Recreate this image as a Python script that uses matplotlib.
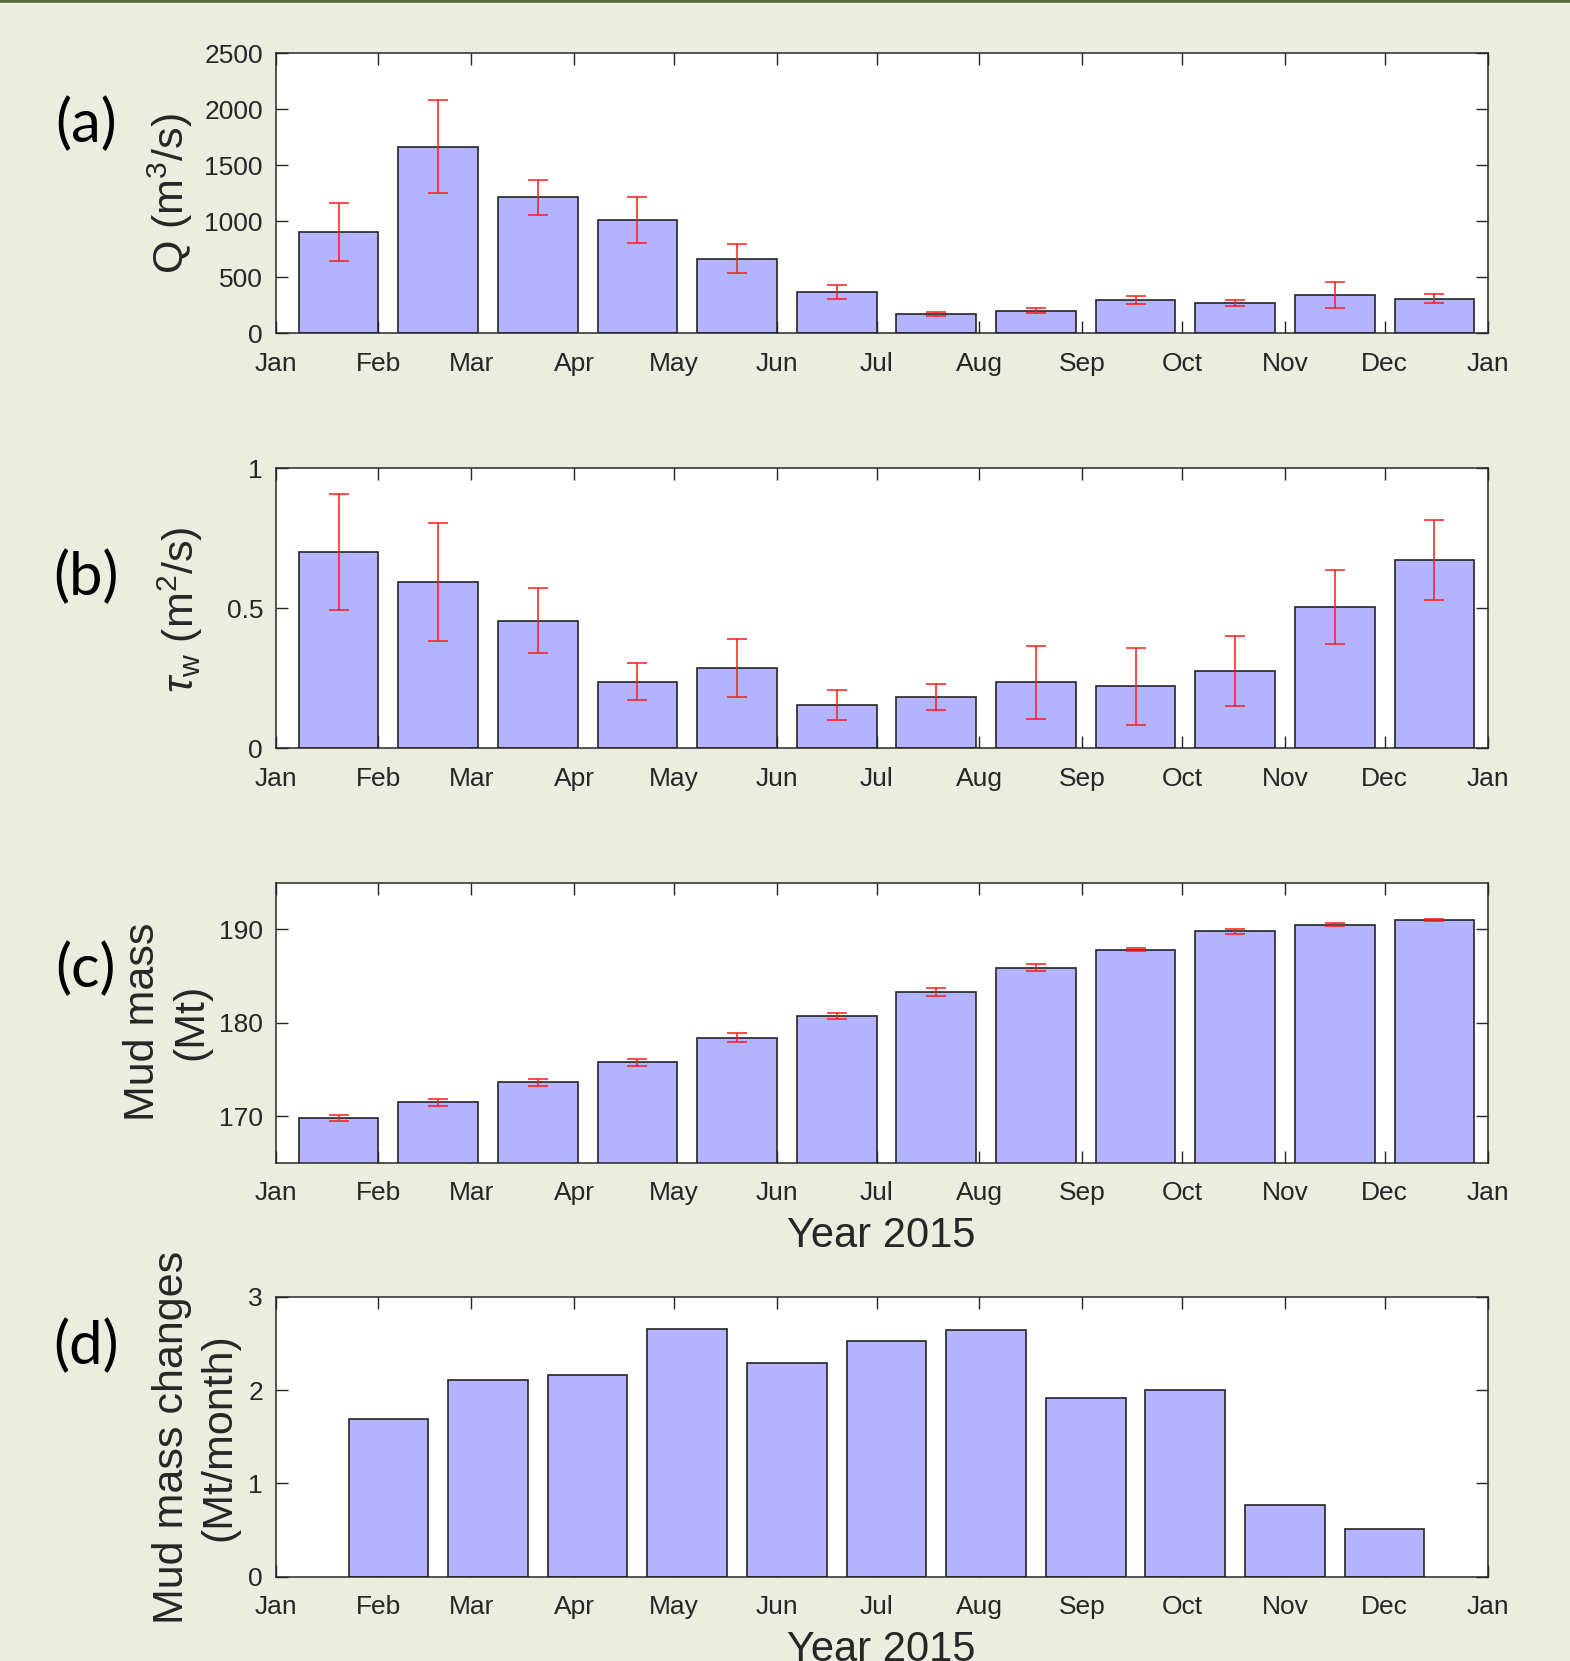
import matplotlib
matplotlib.use('Agg')
import matplotlib.pyplot as plt
import matplotlib.dates as mdates
import pandas as pd

plt.rcParams['font.family'] = ['Liberation Sans', 'DejaVu Sans']
plt.rcParams['mathtext.fontset'] = 'custom'
plt.rcParams['mathtext.rm'] = 'Liberation Sans'
plt.rcParams['mathtext.it'] = 'Liberation Sans:italic'

# ---------------- data ----------------
month_dates = ['2015-01-20', '2015-02-19', '2015-03-21', '2015-04-20', '2015-05-20', '2015-06-19',
               '2015-07-19', '2015-08-18', '2015-09-17', '2015-10-17', '2015-11-16', '2015-12-16']
change_dates = ['2015-02-04', '2015-03-06', '2015-04-05', '2015-05-05', '2015-06-04', '2015-07-04',
                '2015-08-03', '2015-09-02', '2015-10-02', '2015-11-01', '2015-12-01']

discharge = [902, 1667, 1214, 1012, 667, 366, 176, 202, 298, 271, 342, 310]
discharge_err = [260, 412, 158, 205, 128, 62, 18, 20, 37, 24, 113, 41]

wave_stress = [0.702, 0.594, 0.455, 0.238, 0.286, 0.155, 0.183, 0.236, 0.221, 0.277, 0.505, 0.671]
wave_stress_err = [0.207, 0.211, 0.116, 0.066, 0.103, 0.054, 0.047, 0.130, 0.137, 0.125, 0.131, 0.143]

mud_mass = [169.82, 171.47, 173.61, 175.76, 178.41, 180.73, 183.24, 185.89, 187.82, 189.79, 190.50, 191.04]
mud_mass_err = [0.30, 0.35, 0.40, 0.40, 0.45, 0.35, 0.43, 0.36, 0.16, 0.30, 0.16, 0.12]

mud_change = [1.685, 2.104, 2.158, 2.649, 2.287, 2.527, 2.642, 1.910, 2.000, 0.763, 0.516]

panel_letters = ['(a)', '(b)', '(c)', '(d)']
ylabels = ['Q (m$^3$/s)', r'$\tau_{\mathrm{w}}$ (m$^2$/s)', 'Mud mass\n(Mt)', 'Mud mass changes\n(Mt/month)']
xlabel_text = 'Year 2015'

# ---------------- style ----------------
W, H = 1570, 1661
bg = '#EBEEDF'
face = '#B3B3FF'
edge = '#262626'
axcol = '#262626'

fig = plt.figure(figsize=(W / 100, H / 100), dpi=100, facecolor=bg)

ax_left = 275.5 / W
ax_w = 1212 / W
ax_h = 280 / H
bottoms_px = [333.3, 748.3, 1162.7, 1576.7]

series = [
    (month_dates, discharge, discharge_err, (0, 2500), [0, 500, 1000, 1500, 2000, 2500]),
    (month_dates, wave_stress, wave_stress_err, (0, 1), [0, 0.5, 1]),
    (month_dates, mud_mass, mud_mass_err, (165, 195), [170, 180, 190]),
    (change_dates, mud_change, None, (0, 3), [0, 1, 2, 3]),
]

ylabel_pos = [(170, 193.5), (180, 609.5), (167, 1022), (196, 1437)]
letter_pos = [(86, 124.5), (86, 577), (86, 969), (86, 1346)]

for i, (dates, vals, errs, ylim, yticks) in enumerate(series):
    b = bottoms_px[i]
    ax = fig.add_axes([ax_left, 1 - b / H, ax_w, ax_h])
    ax.set_facecolor('white')
    ax.set_axisbelow(True)
    x = pd.to_datetime(dates)
    kw = dict(width=24, color=face, edgecolor=edge, linewidth=1.2)
    if errs is not None:
        ax.bar(x, vals, yerr=errs,
               error_kw=dict(ecolor='#FF1A1A', elinewidth=1.1, capsize=7.5, capthick=1.1), **kw)
    else:
        ax.bar(x, vals, **kw)
    ax.set_xlim(pd.Timestamp('2015-01-01'), pd.Timestamp('2016-01-01'))
    ax.set_ylim(*ylim)
    ax.set_yticks(yticks)
    if i == 1:
        ax.set_yticklabels(['0', '0.5', '1'])
    ax.xaxis.set_major_locator(mdates.MonthLocator())
    ax.xaxis.set_major_formatter(mdates.DateFormatter('%b'))
    ax.tick_params(direction='in', length=8.6, width=1.0, top=True, right=True,
                   labelsize=19, color=axcol, labelcolor=axcol)
    ax.tick_params(axis='x', pad=13.5)
    ax.tick_params(axis='y', pad=9)
    for sp in ax.spines.values():
        sp.set_color(axcol)
        sp.set_linewidth(1.1)
    lx, ly = ylabel_pos[i]
    fig.text(lx / W, 1 - ly / H, ylabels[i], rotation=90, ha='center', va='center',
             fontsize=31, color=axcol, linespacing=1.25, multialignment='center')
    px, py = letter_pos[i]
    fig.text(px / W, 1 - py / H, panel_letters[i], ha='center', va='center',
             fontsize=43, family=['Lato', 'DejaVu Sans'], color='black')

cx = (ax_left + ax_w / 2)
fig.text(cx, 1 - 1236 / H, xlabel_text, ha='center', va='center', fontsize=30, color=axcol)
fig.text(cx, 1 - 1650 / H, xlabel_text, ha='center', va='center', fontsize=30, color=axcol)

fig.add_artist(plt.Line2D([0, 1], [1, 1], transform=fig.transFigure, color='#55683A', linewidth=4))

fig.savefig('out.png', dpi=100, facecolor=bg)
